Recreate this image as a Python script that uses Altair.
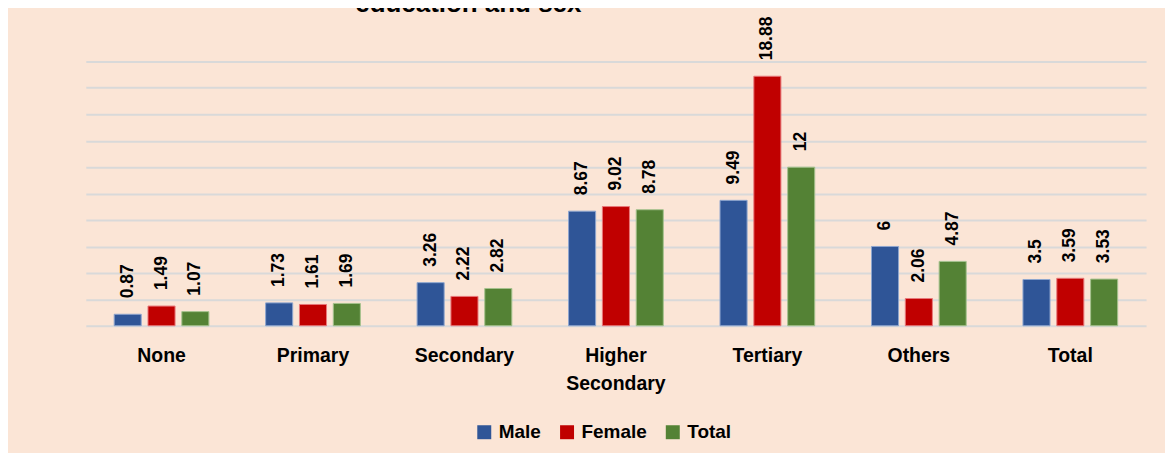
import altair as alt
import pandas as pd

categories = ["None", "Primary", "Secondary", "Higher Secondary", "Tertiary", "Others", "Total"]
series = ["Male", "Female", "Total"]
male = [0.87, 1.73, 3.26, 8.67, 9.49, 6, 3.5]
female = [1.49, 1.61, 2.22, 9.02, 18.88, 2.06, 3.59]
total = [1.07, 1.69, 2.82, 8.78, 12, 4.87, 3.53]
colors = ["#2F5597", "#C00000", "#548235"]
strokes = ["#8EA6CF", "#E8787A", "#A5C28E"]
grid_values = [0, 2, 4, 6, 8, 10, 12, 14, 16, 18, 20]
title_lines = ["Unemployment rate by level of", "education and sex"]

rows = []
for s, vals in zip(series, [male, female, total]):
    for c, v in zip(categories, vals):
        rows.append({"Level": c, "Sex": s, "Rate": v, "Label": f"{v:g}"})
df = pd.DataFrame(rows)

FONT = "Liberation Sans, Arial, sans-serif"

x = alt.X(
    "Level:N", sort=categories, title=None,
    scale=alt.Scale(paddingInner=0.33, paddingOuter=0.165),
    axis=alt.Axis(
        labelAngle=0, domain=False, ticks=False, labelFont=FONT, labelFontSize=19.5,
        labelFontWeight="bold", labelColor="black", labelPadding=21, labelLineHeight=28,
        labelExpr="datum.label == 'Higher Secondary' ? ['Higher', 'Secondary'] : datum.label",
    ),
)
xo = alt.XOffset("Sex:N", sort=series, scale=alt.Scale(paddingInner=0.2, paddingOuter=0.1))
y = alt.Y(
    "Rate:Q", title=None, scale=alt.Scale(domain=[0, 20], nice=False),
    axis=alt.Axis(values=grid_values, labels=False, ticks=False, domain=False, grid=True,
                  gridColor="#D9D9D9", gridWidth=2),
)

base = alt.Chart(df)

bars = base.mark_bar(strokeWidth=1).encode(
    x=x, xOffset=xo, y=y,
    color=alt.Color(
        "Sex:N", sort=series, scale=alt.Scale(domain=series, range=colors),
        legend=alt.Legend(
            title=None, orient="none", legendX=390, legendY=362, direction="horizontal",
            symbolType="square", symbolSize=196, symbolStrokeWidth=0, labelFont=FONT,
            labelFontSize=19, labelFontWeight="bold", labelColor="black", labelOffset=5,
            columnPadding=16,
        ),
    ),
    stroke=alt.Stroke("Sex:N", sort=series, scale=alt.Scale(domain=series, range=strokes), legend=None),
)

labels = base.mark_text(
    angle=270, align="left", baseline="middle", dx=16, font=FONT, fontSize=17.5,
    fontWeight="bold", color="black",
).encode(x=x, xOffset=xo, y=y, text="Label:N")

chart = (
    alt.layer(bars, labels)
    .properties(
        width=1063, height=265,
        title=alt.TitleParams(
            title_lines, font=FONT, fontSize=26, fontWeight="bold", color="black",
            anchor="middle", frame="group", dx=-148, dy=26, offset=0, baseline="bottom",
            lineHeight=30,
        ),
        autosize=alt.AutoSizeParams(type="none"),
        padding={"left": 78, "top": 53, "right": 19, "bottom": 127},
        background="#FBE5D6",
    )
    .configure_view(stroke=None)
)

chart.save("out.html", embed_options={"renderer": "svg", "actions": False})
